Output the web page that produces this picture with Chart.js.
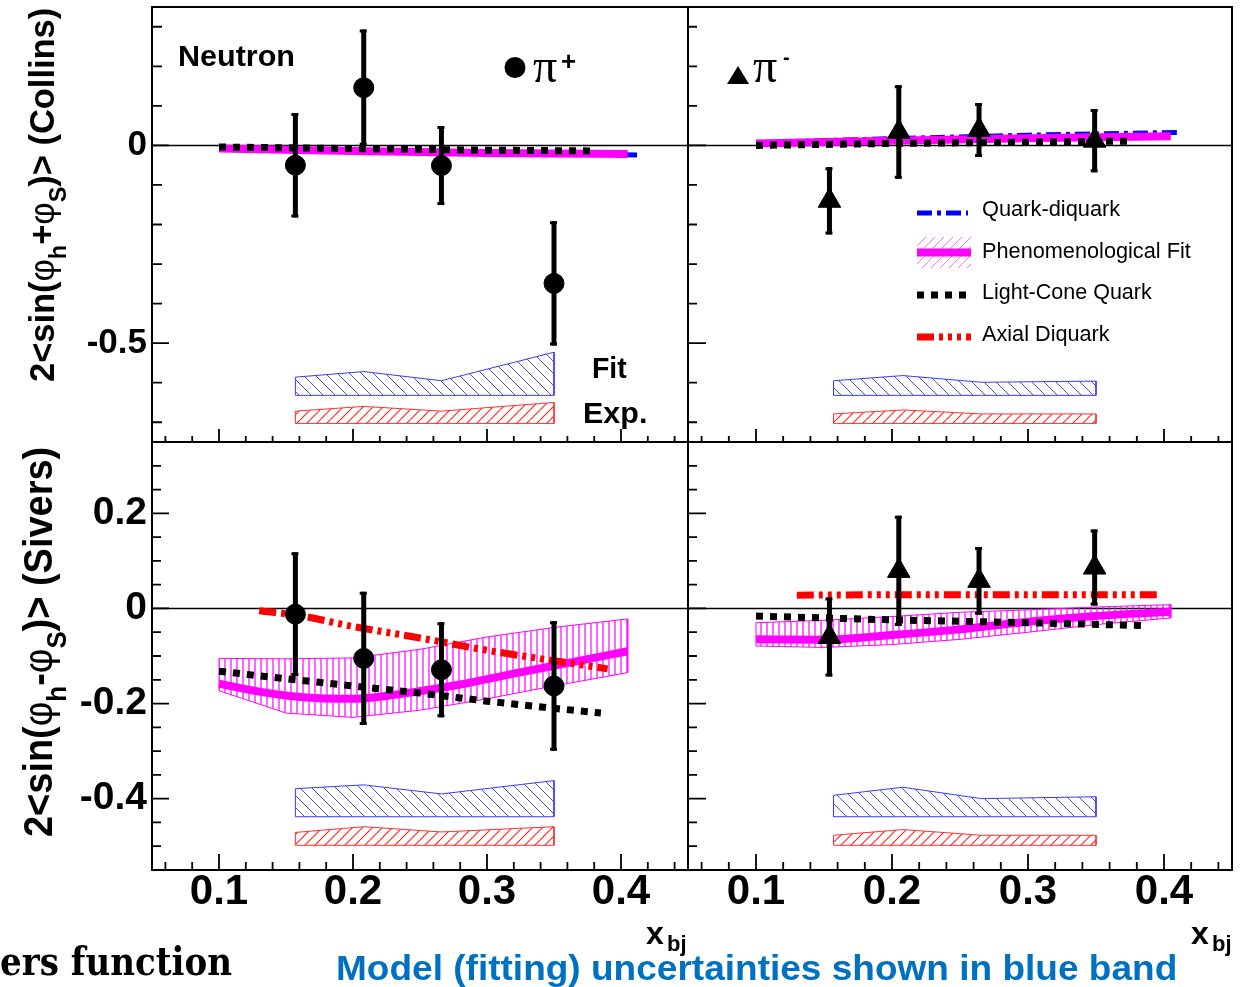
<!DOCTYPE html>
<html><head><meta charset="utf-8">
<script src="https://cdn.jsdelivr.net/npm/chart.js@4.4.1/dist/chart.umd.min.js"></script>
<style>
html,body{margin:0;padding:0;background:#fff;}
body{width:1253px;height:987px;position:relative;overflow:hidden;font-family:'Liberation Sans',Arial,sans-serif;}
canvas{position:absolute;}
.t{position:absolute;line-height:1;white-space:nowrap;color:#000;transform-origin:0 0;}
.b{font-weight:bold;}
.rot{transform:rotate(-90deg);}
.ph{font-weight:normal;}
sub{font-size:0.68em;vertical-align:-0.5em;line-height:0;}
.sr{font-family:'Liberation Serif','Times New Roman',serif;}
</style></head><body>
<canvas id="cTL" width="690" height="444" style="left:0;top:0"></canvas>
<canvas id="cTR" width="567" height="444" style="left:686px;top:0"></canvas>
<canvas id="cBL" width="690" height="547" style="left:0;top:440px"></canvas>
<canvas id="cBR" width="567" height="547" style="left:686px;top:440px"></canvas>

<div class="t b rot" data-w="374" data-rot="1" style="left:23.5px;top:382px;font-size:35px;">2&lt;sin(<span class="ph">φ</span><sub>h</sub>+<span class="ph">φ</span><sub>S</sub>)&gt; (Collins)</div>
<div class="t b rot" data-w="390" data-rot="1" style="left:18px;top:837px;font-size:40px;">2&lt;sin(<span class="ph">φ</span><sub>h</sub>-<span class="ph">φ</span><sub>S</sub>)&gt; (Sivers)</div>

<div class="t b" data-w="117" style="left:178px;top:41px;font-size:30px;">Neutron</div>
<div class="t sr" style="left:533px;top:42px;font-size:48px;">π</div>
<div class="t b" style="left:561px;top:48px;font-size:26px;">+</div>
<div class="t sr" style="left:753px;top:42px;font-size:48px;">π</div>
<div class="t b" style="left:783px;top:47px;font-size:20px;">-</div>
<div class="t b" data-w="35" style="left:592px;top:353px;font-size:30px;">Fit</div>
<div class="t b" data-w="64" style="left:583px;top:398px;font-size:30px;">Exp.</div>

<div class="t" data-w="138" style="left:982px;top:199px;font-size:21.5px;">Quark-diquark</div>
<div class="t" data-w="209" style="left:982px;top:240.5px;font-size:21.5px;">Phenomenological Fit</div>
<div class="t" data-w="170" style="left:982px;top:282px;font-size:21.5px;">Light-Cone Quark</div>
<div class="t" data-w="128" style="left:982px;top:324px;font-size:21.5px;">Axial Diquark</div>

<div class="t b" style="left:646px;top:917px;font-size:32px;">x</div>
<div class="t b" style="left:667px;top:933px;font-size:22px;">bj</div>
<div class="t b" style="left:1191px;top:917px;font-size:32px;">x</div>
<div class="t b" style="left:1212px;top:933px;font-size:22px;">bj</div>

<div class="t" data-w="232" style="left:0px;top:941px;font-size:40px;font-family:'DejaVu Serif',serif;font-weight:900;">ers function</div>
<div class="t b" data-w="841" style="left:336px;top:950px;font-size:35px;color:#0070c0;">Model (fitting) uncertainties shown in blue band</div>

<script>
// ---------------- axes ----------------
const xRange = [0.05, 0.45];
const collinsRange = [-0.75, 0.35];
const siversRange = [-0.55, 0.35];
const xTickLabels = [0.1, 0.2, 0.3, 0.4];
const collinsTickLabels = [0, -0.5];
const siversTickLabels = [0.2, 0, -0.2, -0.4];

// ---------------- data points ----------------
const xPiPlus  = [0.157, 0.208, 0.266, 0.350];
const xPiMinus = [0.154, 0.205, 0.264, 0.349];

const collinsPiPlusY   = [-0.050, 0.146, -0.051, -0.349];
const collinsPiPlusErr = [0.132, 0.147, 0.100, 0.157];
const collinsPiMinusY   = [-0.140, 0.034, 0.039, 0.012];
const collinsPiMinusErr = [0.085, 0.118, 0.068, 0.080];
const siversPiPlusY   = [-0.012, -0.105, -0.129, -0.163];
const siversPiPlusErr = [0.130, 0.140, 0.100, 0.136];
const siversPiMinusY   = [-0.060, 0.079, 0.058, 0.086];
const siversPiMinusErr = [0.083, 0.116, 0.071, 0.080];

// ---------------- systematic bands (Fit / Exp.) ----------------
const sysX = [0.157, 0.208, 0.266, 0.350];
const collinsPlusFitBase = -0.632;  const collinsPlusFitTop = [-0.586, -0.572, -0.595, -0.523];
const collinsPlusExpBase = -0.703;  const collinsPlusExpTop = [-0.672, -0.660, -0.672, -0.650];
const collinsMinusFitBase = -0.632; const collinsMinusFitTop = [-0.595, -0.582, -0.599, -0.596];
const collinsMinusExpBase = -0.703; const collinsMinusExpTop = [-0.679, -0.669, -0.679, -0.679];
const siversPlusFitBase = -0.438;   const siversPlusFitTop = [-0.379, -0.371, -0.390, -0.362];
const siversPlusExpBase = -0.498;   const siversPlusExpTop = [-0.471, -0.459, -0.470, -0.459];
const siversMinusFitBase = -0.438;  const siversMinusFitTop = [-0.393, -0.376, -0.400, -0.396];
const siversMinusExpBase = -0.498;  const siversMinusExpTop = [-0.477, -0.465, -0.477, -0.477];

// ---------------- model curves ----------------
// Collins pi+
const cpPhenX = [0.10, 0.20, 0.30, 0.405];  const cpPhenY = [-0.008, -0.014, -0.019, -0.022];
const cpQDX   = [0.10, 0.20, 0.30, 0.412];  const cpQDY   = [-0.009, -0.015, -0.020, -0.024];
const cpLCX   = [0.10, 0.20, 0.30, 0.380];  const cpLCY   = [-0.004, -0.008, -0.012, -0.014];
// Collins pi-
const cmPhenX = [0.10, 0.20, 0.30, 0.405];  const cmPhenY = [0.005, 0.012, 0.018, 0.023];
const cmQDX   = [0.10, 0.20, 0.30, 0.412];  const cmQDY   = [0.007, 0.017, 0.026, 0.033];
const cmLCX   = [0.10, 0.20, 0.30, 0.378];  const cmLCY   = [0.000, 0.005, 0.008, 0.011];
// Sivers pi+
const spPhenX = [0.10, 0.13, 0.16, 0.20, 0.24, 0.28, 0.32, 0.36, 0.405];
const spPhenY = [-0.158, -0.175, -0.186, -0.190, -0.178, -0.160, -0.137, -0.115, -0.090];
const spBandX = [0.10, 0.15, 0.20, 0.25, 0.30, 0.35, 0.405];
const spBandHi = [-0.105, -0.106, -0.104, -0.086, -0.060, -0.040, -0.022];
const spBandLo = [-0.173, -0.220, -0.229, -0.214, -0.190, -0.163, -0.135];
const spLCX = [0.10, 0.15, 0.20, 0.25, 0.30, 0.35, 0.385];
const spLCY = [-0.132, -0.148, -0.163, -0.178, -0.195, -0.210, -0.220];
const spADX = [0.13, 0.16, 0.20, 0.25, 0.30, 0.35, 0.39];
const spADY = [-0.005, -0.015, -0.038, -0.062, -0.088, -0.110, -0.127];
// Sivers pi-
const smPhenX = [0.10, 0.15, 0.20, 0.25, 0.30, 0.35, 0.405];
const smPhenY = [-0.065, -0.066, -0.056, -0.044, -0.028, -0.016, -0.007];
const smBandX = [0.10, 0.15, 0.20, 0.25, 0.30, 0.35, 0.405];
const smBandHi = [-0.030, -0.025, -0.017, -0.008, -0.003, 0.003, 0.008];
const smBandLo = [-0.079, -0.082, -0.076, -0.065, -0.050, -0.034, -0.020];
const smLCX = [0.10, 0.20, 0.30, 0.385];
const smLCY = [-0.016, -0.024, -0.030, -0.036];
const smADX = [0.13, 0.20, 0.30, 0.396];
const smADY = [0.028, 0.029, 0.029, 0.029];

// ---------------- styles ----------------
const ST = {
  qd:   {color:'#0000ff', width:5, dash:[15,5,4,5]},
  phen: {color:'#ff00ff', width:8, dash:[]},
  lc:   {color:'#000000', width:7, dash:[7,7]},
  ad:   {color:'#ff0000', width:7, dash:[17,5,4,5,4,5,4,5]}
};

function hatch(color, kind, w, h, lw) {
  const c = document.createElement('canvas'); c.width = w; c.height = h;
  const g = c.getContext('2d'); g.strokeStyle = color; g.lineWidth = lw; g.beginPath();
  if (kind === 'v') { g.moveTo(w/2, 0); g.lineTo(w/2, h); }
  else if (kind === 'back') { g.moveTo(0,0); g.lineTo(w,h); g.moveTo(-w,0); g.lineTo(0,h); g.moveTo(w,0); g.lineTo(2*w,h); }
  else { g.moveTo(0,h); g.lineTo(w,0); g.moveTo(-w,h); g.lineTo(0,0); g.moveTo(w,h); g.lineTo(2*w,0); }
  g.stroke();
  return g.createPattern(c, 'repeat');
}
const patBlue = hatch('#4b4bff', 'back', 12, 12, 1);
const patRed = hatch('#ff2a2a', 'fwd', 10, 10, 1.2);
const patMag = hatch('#ff00ff', 'v', 6, 6, 1.2);
const patLeg = hatch('rgba(255,0,255,0.55)', 'fwd', 9, 9, 1);

function minorTicks(step, kmin, kmax, majorEvery) {
  const out = [];
  for (let k = kmin; k <= kmax; k++) if (k % majorEvery !== 0) out.push(+(k*step).toFixed(3));
  return out;
}
const xMinor = minorTicks(0.02, 3, 22, 5);
const collinsMinor = minorTicks(0.1, -7, 3, 5);
const siversMinor = minorTicks(0.05, -10, 6, 4);
const siversMajor = [0.2, 0, -0.2, -0.4];

// ---------------- dataset helpers ----------------
const pts = (xs, ys) => xs.map((x, i) => ({x, y: ys[i]}));
function lineDS(xs, ys, st, order, smooth) {
  return {data: pts(xs, ys), showLine: true, borderColor: st.color, borderWidth: st.width, borderDash: st.dash,
          borderCapStyle: 'butt', pointRadius: 0, fill: false, order, tension: 0,
          cubicInterpolationMode: smooth ? 'monotone' : 'default'};
}
function polyDS(xs, hi, lo, stroke, pattern, order) {
  const d = pts(xs, hi);
  for (let i = xs.length - 1; i >= 0; i--) d.push({x: xs[i], y: lo[i]});
  d.push({x: xs[0], y: hi[0]});
  return {data: d, showLine: true, borderColor: stroke, borderWidth: 1, pointRadius: 0,
          fill: 'shape', backgroundColor: pattern, order, tension: 0};
}
function sysDS(top, base, stroke, pattern) {
  return polyDS(sysX, top, sysX.map(() => base), stroke, pattern, 6);
}
function pointDS(xs, ys, errs, style, r) {
  return {data: pts(xs, ys), errorBars: errs, showLine: false, pointStyle: style, pointRadius: r,
          pointBackgroundColor: '#000', pointBorderColor: '#000', pointBorderWidth: 1, order: 0};
}

// ---------------- panel plugin (frame, inward ticks, zero line, error bars) ----------------
const PANEL = {};
const rootPlugin = {
  id: 'rootFrame',
  beforeDatasetsDraw(chart) {
    const cfg = PANEL[chart.canvas.id]; if (!cfg) return;
    const {ctx, chartArea: a, scales: {x, y}} = chart;
    ctx.save();
    ctx.strokeStyle = '#000';
    ctx.lineWidth = 1.5;
    const yz = y.getPixelForValue(0);
    ctx.beginPath(); ctx.moveTo(a.left, yz); ctx.lineTo(a.right, yz); ctx.stroke();
    ctx.lineWidth = 1.8; ctx.beginPath();
    cfg.yMajor.forEach(v => { const p = y.getPixelForValue(v); ctx.moveTo(a.left, p); ctx.lineTo(a.left + cfg.yMaj, p); });
    cfg.yMinor.forEach(v => { const p = y.getPixelForValue(v); ctx.moveTo(a.left, p); ctx.lineTo(a.left + cfg.yMin, p); });
    xTickLabels.forEach(v => { const p = x.getPixelForValue(v); ctx.moveTo(p, a.bottom); ctx.lineTo(p, a.bottom - cfg.xMaj); });
    xMinor.forEach(v => { const p = x.getPixelForValue(v); ctx.moveTo(p, a.bottom); ctx.lineTo(p, a.bottom - cfg.xMin); });
    ctx.stroke();
    ctx.restore();
  },
  beforeDatasetDraw(chart, args) {
    const ds = chart.data.datasets[args.index];
    if (!ds.errorBars) return;
    const {ctx, scales: {x, y}} = chart;
    ctx.save(); ctx.strokeStyle = '#000'; ctx.lineCap = 'butt';
    ds.data.forEach((p, i) => {
      const e = ds.errorBars[i];
      const px = x.getPixelForValue(p.x), t = y.getPixelForValue(p.y + e), b = y.getPixelForValue(p.y - e);
      ctx.lineWidth = 5; ctx.beginPath(); ctx.moveTo(px, t); ctx.lineTo(px, b); ctx.stroke();
      ctx.lineWidth = 3; ctx.beginPath();
      ctx.moveTo(px - 4, t + 1.5); ctx.lineTo(px + 3, t + 1.5);
      ctx.moveTo(px - 4, b - 1.5); ctx.lineTo(px + 3, b - 1.5); ctx.stroke();
    });
    ctx.restore();
  },
  afterDatasetsDraw(chart) {
    const cfg = PANEL[chart.canvas.id]; if (!cfg) return;
    const {ctx, chartArea: a} = chart;
    ctx.save();
    ctx.strokeStyle = '#000'; ctx.lineWidth = 2;
    ctx.strokeRect(a.left, a.top, a.right - a.left, a.bottom - a.top);
    if (cfg.extra) cfg.extra(ctx);
    ctx.restore();
  }
};

function makeChart(id, datasets, o) {
  PANEL[id] = o.panel;
  return new Chart(document.getElementById(id), {
    type: 'line',
    data: {datasets},
    options: {
      responsive: false, animation: false, devicePixelRatio: 1,
      layout: {padding: o.padding, autoPadding: false},
      plugins: {legend: {display: false}, tooltip: {enabled: false}},
      scales: {
        x: {
          type: 'linear', min: xRange[0], max: xRange[1], display: o.xLabels,
          grid: {display: false, drawTicks: false}, border: {display: false},
          afterBuildTicks: s => { s.ticks = xTickLabels.map(v => ({value: v})); },
          afterFit: s => { s.paddingLeft = s.paddingRight = s.paddingTop = s.paddingBottom = 0; if (o.xLabels) s.height = o.xH; },
          ticks: {font: {family: "'Liberation Sans Narrow','Liberation Sans',Arial,sans-serif", size: 42, weight: 'bold', lineHeight: 1},
                  color: '#000', padding: 1.5, maxRotation: 0, autoSkip: false, callback: v => v.toFixed(1)}
        },
        y: {
          type: 'linear', min: o.yRange[0], max: o.yRange[1], display: o.yLabels,
          grid: {display: false, drawTicks: false}, border: {display: false},
          afterBuildTicks: s => { s.ticks = o.yTicks.map(v => ({value: v})); },
          afterFit: s => { s.paddingLeft = s.paddingRight = s.paddingTop = s.paddingBottom = 0; if (o.yLabels) s.width = 152; },
          ticks: {font: {family: "'Liberation Sans',Arial,sans-serif", size: o.yFont, weight: 'bold', lineHeight: 1},
                  color: '#000', padding: 5, autoSkip: false, callback: v => (v === 0 ? '0' : String(v))}
        }
      }
    },
    plugins: [rootPlugin]
  });
}

// ---------------- top-left: Collins pi+ ----------------
makeChart('cTL', [
  pointDS(xPiPlus, collinsPiPlusY, collinsPiPlusErr, 'circle', 10),
  lineDS(cpLCX, cpLCY, ST.lc, 1),
  lineDS(cpPhenX, cpPhenY, ST.phen, 3),
  lineDS(cpQDX, cpQDY, ST.qd, 4),
  sysDS(collinsPlusFitTop, collinsPlusFitBase, '#3a3aff', patBlue),
  sysDS(collinsPlusExpTop, collinsPlusExpBase, '#ff3030', patRed)
], {
  padding: {left: 0, right: 2, top: 7, bottom: 2}, xLabels: false, yLabels: true,
  yRange: collinsRange, yTicks: collinsTickLabels, yFont: 35,
  panel: {yMajor: collinsTickLabels, yMinor: collinsMinor, yMaj: 17, yMin: 10, xMaj: 13, xMin: 6,
    extra(ctx) { ctx.fillStyle = '#000'; ctx.beginPath(); ctx.arc(515, 67.5, 10.5, 0, Math.PI * 2); ctx.fill(); }}
});

// ---------------- top-right: Collins pi- ----------------
makeChart('cTR', [
  pointDS(xPiMinus, collinsPiMinusY, collinsPiMinusErr, 'triangle', 13),
  lineDS(cmLCX, cmLCY, ST.lc, 1),
  lineDS(cmPhenX, cmPhenY, ST.phen, 3),
  lineDS(cmQDX, cmQDY, ST.qd, 4),
  sysDS(collinsMinusFitTop, collinsMinusFitBase, '#3a3aff', patBlue),
  sysDS(collinsMinusExpTop, collinsMinusExpBase, '#ff3030', patRed)
], {
  padding: {left: 2, right: 21, top: 7, bottom: 2}, xLabels: false, yLabels: false,
  yRange: collinsRange, yTicks: collinsTickLabels, yFont: 35,
  panel: {yMajor: collinsTickLabels, yMinor: collinsMinor, yMaj: 18, yMin: 9, xMaj: 13, xMin: 6,
    extra(ctx) {
      const ox = 686;
      ctx.fillStyle = '#000'; ctx.beginPath();
      ctx.moveTo(738 - ox, 66); ctx.lineTo(727 - ox, 84); ctx.lineTo(749 - ox, 84); ctx.closePath(); ctx.fill();
      const seg = (y, x1, x2, st) => {
        ctx.strokeStyle = st.color; ctx.lineWidth = st.width; ctx.setLineDash(st.dash); ctx.lineCap = 'butt';
        ctx.beginPath(); ctx.moveTo(x1 - ox, y); ctx.lineTo(x2 - ox, y); ctx.stroke(); ctx.setLineDash([]);
      };
      seg(213, 917, 968, ST.qd);
      ctx.fillStyle = patLeg; ctx.fillRect(917 - ox, 237, 54, 31);
      seg(252.5, 917, 971, ST.phen);
      seg(295, 917, 968, ST.lc);
      seg(337, 917, 971, ST.ad);
    }}
});

// ---------------- bottom-left: Sivers pi+ ----------------
makeChart('cBL', [
  pointDS(xPiPlus, siversPiPlusY, siversPiPlusErr, 'circle', 10),
  lineDS(spLCX, spLCY, ST.lc, 1),
  lineDS(spADX, spADY, ST.ad, 2, true),
  lineDS(spPhenX, spPhenY, ST.phen, 3, true),
  polyDS(spBandX, spBandHi, spBandLo, '#ff00ff', patMag, 5),
  sysDS(siversPlusFitTop, siversPlusFitBase, '#3a3aff', patBlue),
  sysDS(siversPlusExpTop, siversPlusExpBase, '#ff3030', patRed)
], {
  padding: {left: 0, right: 2, top: 2, bottom: 0}, xLabels: true, xH: 117, yLabels: true,
  yRange: siversRange, yTicks: siversTickLabels, yFont: 39,
  panel: {yMajor: siversMajor, yMinor: siversMinor, yMaj: 17, yMin: 9, xMaj: 16, xMin: 8}
});

// ---------------- bottom-right: Sivers pi- ----------------
makeChart('cBR', [
  pointDS(xPiMinus, siversPiMinusY, siversPiMinusErr, 'triangle', 13),
  lineDS(smLCX, smLCY, ST.lc, 1),
  lineDS(smADX, smADY, ST.ad, 2),
  lineDS(smPhenX, smPhenY, ST.phen, 3, true),
  polyDS(smBandX, smBandHi, smBandLo, '#ff00ff', patMag, 5),
  sysDS(siversMinusFitTop, siversMinusFitBase, '#3a3aff', patBlue),
  sysDS(siversMinusExpTop, siversMinusExpBase, '#ff3030', patRed)
], {
  padding: {left: 2, right: 21, top: 2, bottom: 0}, xLabels: true, xH: 117, yLabels: false,
  yRange: siversRange, yTicks: siversTickLabels, yFont: 39,
  panel: {yMajor: siversMajor, yMinor: siversMinor, yMaj: 18, yMin: 9, xMaj: 16, xMin: 8}
});

// ---------------- fit HTML text widths ----------------
function fitTexts() {
  document.querySelectorAll('[data-w]').forEach(el => {
    const s = (+el.dataset.w) / el.offsetWidth;
    el.style.transform = (el.dataset.rot ? 'rotate(-90deg) ' : '') + 'scaleX(' + s.toFixed(4) + ')';
  });
}
fitTexts();
if (document.fonts && document.fonts.ready) document.fonts.ready.then(fitTexts);
</script>
</body></html>
